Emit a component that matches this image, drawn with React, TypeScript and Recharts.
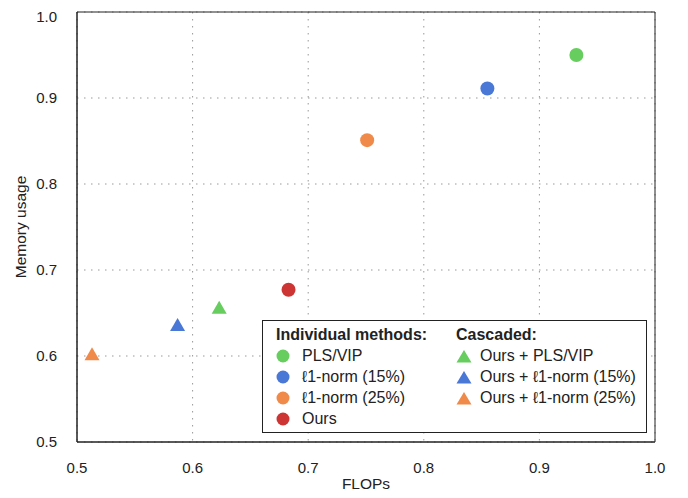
import { ScatterChart, Scatter, XAxis, YAxis, CartesianGrid, ReferenceArea } from 'recharts';

const plsVip = [{ flops: 0.932, memory: 0.95 }];
const l1norm15 = [{ flops: 0.855, memory: 0.911 }];
const l1norm25 = [{ flops: 0.751, memory: 0.851 }];
const ours = [{ flops: 0.683, memory: 0.677 }];
const oursPlsVip = [{ flops: 0.623, memory: 0.654 }];
const oursL1norm15 = [{ flops: 0.587, memory: 0.634 }];
const oursL1norm25 = [{ flops: 0.513, memory: 0.6 }];

const xTicks = [0.5, 0.6, 0.7, 0.8, 0.9, 1.0];
const yTicks = [0.5, 0.6, 0.7, 0.8, 0.9, 1.0];

const GREEN = '#66cd5e';
const BLUE = '#4a78d6';
const ORANGE = '#f08a4b';
const RED = '#cd3535';

const individual = [
  { name: 'PLS/VIP', color: GREEN },
  { name: 'ℓ1-norm (15%)', color: BLUE },
  { name: 'ℓ1-norm (25%)', color: ORANGE },
  { name: 'Ours', color: RED },
];
const cascaded = [
  { name: 'Ours + PLS/VIP', color: GREEN },
  { name: 'Ours + ℓ1-norm (15%)', color: BLUE },
  { name: 'Ours + ℓ1-norm (25%)', color: ORANGE },
];

const font = '"Liberation Sans", Arial, sans-serif';
const tickStyle = { fontSize: 15, fill: '#222', fontFamily: font };
const labelStyle = { fontSize: 15.5, fill: '#222', fontFamily: font };

// custom marks so the circle/triangle sizes match the original
const Dot = (props: any) => <circle cx={props.cx} cy={props.cy} r={7} fill={props.fill} />;
const Tri = (props: any) => {
  const { cx, cy } = props;
  return <polygon points={`${cx},${cy - 8.7} ${cx + 7.5},${cy + 4.3} ${cx - 7.5},${cy + 4.3}`} fill={props.fill} />;
};

function LegendBox() {
  const row = { display: 'flex', alignItems: 'center', height: 21 };
  return (
    <div style={{
      position: 'absolute', left: 254, top: 312, width: 385, height: 113,
      border: '1.5px solid #222', background: '#fff', fontFamily: font, fontSize: 16, color: '#222',
      display: 'flex', padding: '3px 0 0 0', boxSizing: 'border-box'
    }}>
      <div style={{ marginLeft: 13, width: 180 }}>
        <div style={{ ...row, fontWeight: 'bold' }}>Individual methods:</div>
        {individual.map(d => (
          <div key={d.name} style={row}>
            <svg width={14} height={14} style={{ marginRight: 12 }}>
              <circle cx={7} cy={7} r={6.5} fill={d.color} />
            </svg>
            {d.name}
          </div>
        ))}
      </div>
      <div>
        <div style={{ ...row, fontWeight: 'bold' }}>Cascaded:</div>
        {cascaded.map(d => (
          <div key={d.name} style={row}>
            <svg width={16} height={14} style={{ marginRight: 8 }}>
              <polygon points="8,1 15.5,13.5 0.5,13.5" fill={d.color} />
            </svg>
            {d.name}
          </div>
        ))}
      </div>
    </div>
  );
}

export default function App() {
  return (
    <div style={{ position: 'relative', width: 680, height: 490 }}>
      <ScatterChart width={680} height={490} margin={{ top: 4, right: 33, bottom: 9, left: 0 }}>
        <CartesianGrid stroke="#999" strokeDasharray="1.5 5.5" />
        <XAxis
          type="number"
          dataKey="flops"
          domain={[0.5, 1.0]}
          ticks={xTicks}
          tickFormatter={(v: number) => v.toFixed(1)}
          tick={tickStyle}
          tickLine={false}
          tickMargin={14}
          axisLine={{ stroke: '#222' }}
          height={47}
          label={{ value: 'FLOPs', position: 'insideBottom', offset: 0, style: labelStyle }}
        />
        <YAxis
          type="number"
          dataKey="memory"
          domain={[0.5, 1.0]}
          ticks={yTicks}
          tickFormatter={(v: number) => v.toFixed(1)}
          tick={tickStyle}
          tickLine={false}
          tickMargin={14}
          axisLine={{ stroke: '#222' }}
          width={69}
          label={{ value: 'Memory usage', angle: -90, position: 'insideLeft', offset: 12, style: { ...labelStyle, textAnchor: 'middle' } }}
        />
        <ReferenceArea x1={0.5} x2={1.0} y1={0.5} y2={1.0} fill="none" stroke="#222" strokeWidth={1} ifOverflow="visible" />
        <Scatter data={plsVip} fill={GREEN} shape={Dot} isAnimationActive={false} />
        <Scatter data={l1norm15} fill={BLUE} shape={Dot} isAnimationActive={false} />
        <Scatter data={l1norm25} fill={ORANGE} shape={Dot} isAnimationActive={false} />
        <Scatter data={ours} fill={RED} shape={Dot} isAnimationActive={false} />
        <Scatter data={oursPlsVip} fill={GREEN} shape={Tri} isAnimationActive={false} />
        <Scatter data={oursL1norm15} fill={BLUE} shape={Tri} isAnimationActive={false} />
        <Scatter data={oursL1norm25} fill={ORANGE} shape={Tri} isAnimationActive={false} />
      </ScatterChart>
      <LegendBox />
    </div>
  );
}
